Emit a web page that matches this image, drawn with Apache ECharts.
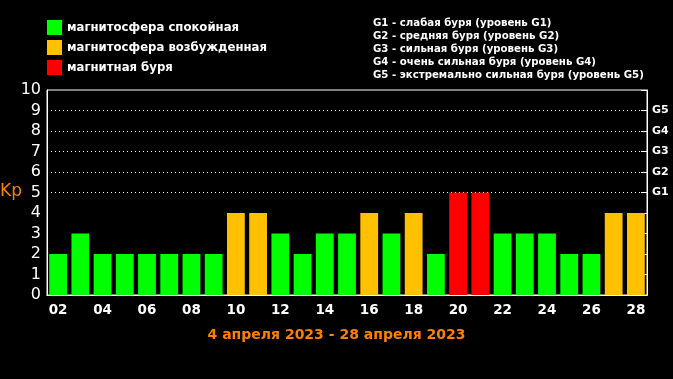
<!DOCTYPE html>
<html><head><meta charset="utf-8">
<script src="https://cdn.jsdelivr.net/npm/echarts@6/dist/echarts.min.js"></script>
<style>html,body{margin:0;padding:0;background:#000;}#c{width:673px;height:379px;}</style>
</head><body><div id="c"></div>
<script>
const days = ['02','03','04','05','06','07','08','09','10','11','12','13','14','15','16','17','18','19','20','21','22','23','24','25','26','27','28'];
const kp =   [2,3,2,2,2,2,2,2,4,4,3,2,3,3,4,3,4,2,5,5,3,3,3,2,2,4,4];
const level = ['q','q','q','q','q','q','q','q','a','a','q','q','q','q','a','q','a','q','s','s','q','q','q','q','q','a','a'];
const seriesNames = ['магнитосфера спокойная','магнитосфера возбужденная','магнитная буря'];
const seriesKeys = ['q','a','s'];
const seriesColors = ['#00ff00','#ffc000','#ff0000'];
const gLevels = [5,6,7,8,9];
const gLabels = ['G1','G2','G3','G4','G5'];
const gLegend = ['G1 - слабая буря (уровень G1)','G2 - средняя буря (уровень G2)','G3 - сильная буря (уровень G3)','G4 - очень сильная буря (уровень G4)','G5 - экстремально сильная буря (уровень G5)'];
const titleText = '4 апреля 2023 - 28 апреля 2023';

const chart = echarts.init(document.getElementById('c'));
const series = seriesKeys.map((k,i)=>({
  name: seriesNames[i], type:'bar', stack:'kp', barCategoryGap:'20%',
  itemStyle:{color:seriesColors[i]},
  data: kp.map((v,j)=> level[j]===k ? v : null),
  z: 3,
  markLine: i===0 ? {silent:true, symbol:'none', label:{show:false},
    lineStyle:{color:'#fff', type:[1,3], width:1},
    data: gLevels.map(v=>({yAxis:v}))} : undefined
}));
chart.setOption({
  backgroundColor:'#000',
  animation:false,
  title:{text:titleText, left:'center', top:323, textStyle:{color:'#ff8000', fontFamily:'DejaVu Sans', fontWeight:'bold', fontSize:14}},
  legend:{left:42, top:15, orient:'vertical', itemWidth:15, itemHeight:15, itemGap:5, icon:'rect',
    textStyle:{color:'#fff', fontFamily:'DejaVu Sans', fontWeight:'bold', fontSize:11.7}, data:seriesNames},
  graphic: gLegend.map((t,i)=>({type:'text', left:373, top:18+i*13,
    style:{text:t, fill:'#fff', font:'bold 10.2px "DejaVu Sans"'}})).concat([
    {type:'text', left:0, top:183, style:{text:'Kp', fill:'#ff8000', font:'17px "DejaVu Sans"'}}]),
  grid:{left:47, right:26, top:90, bottom:84, show:true, borderColor:'#fff', borderWidth:1},
  xAxis:[
    {type:'category', data:days, position:'bottom',
     axisLine:{lineStyle:{color:'#fff'}},
     axisTick:{inside:true, length:4, lineStyle:{color:'#fff'}},
     axisLabel:{interval:1, color:'#fff', fontFamily:'DejaVu Sans', fontWeight:'bold', fontSize:13.5, margin:8}},
    {type:'category', data:days, position:'top',
     axisLine:{lineStyle:{color:'#fff'}},
     axisTick:{inside:true, length:5, lineStyle:{color:'#fff'}},
     axisLabel:{show:false}}
  ],
  yAxis:[
    {type:'value', min:0, max:10, interval:1, position:'left',
     axisLine:{show:true, lineStyle:{color:'#fff'}}, axisTick:{show:false}, splitLine:{show:false},
     axisLabel:{color:'#fff', fontFamily:'DejaVu Sans', fontSize:16, margin:6}},
    {type:'value', min:0, max:10, interval:1, position:'right',
     axisLine:{show:true, lineStyle:{color:'#fff'}},
     axisTick:{show:true, inside:true, length:6, lineStyle:{color:'#fff'}}, splitLine:{show:false},
     axisLabel:{color:'#fff', fontFamily:'DejaVu Sans', fontWeight:'bold', fontSize:11, margin:5,
       formatter:v=>{const k=gLevels.indexOf(v); return k>=0?gLabels[k]:'';}}}
  ],
  series: series
});
</script></body></html>
